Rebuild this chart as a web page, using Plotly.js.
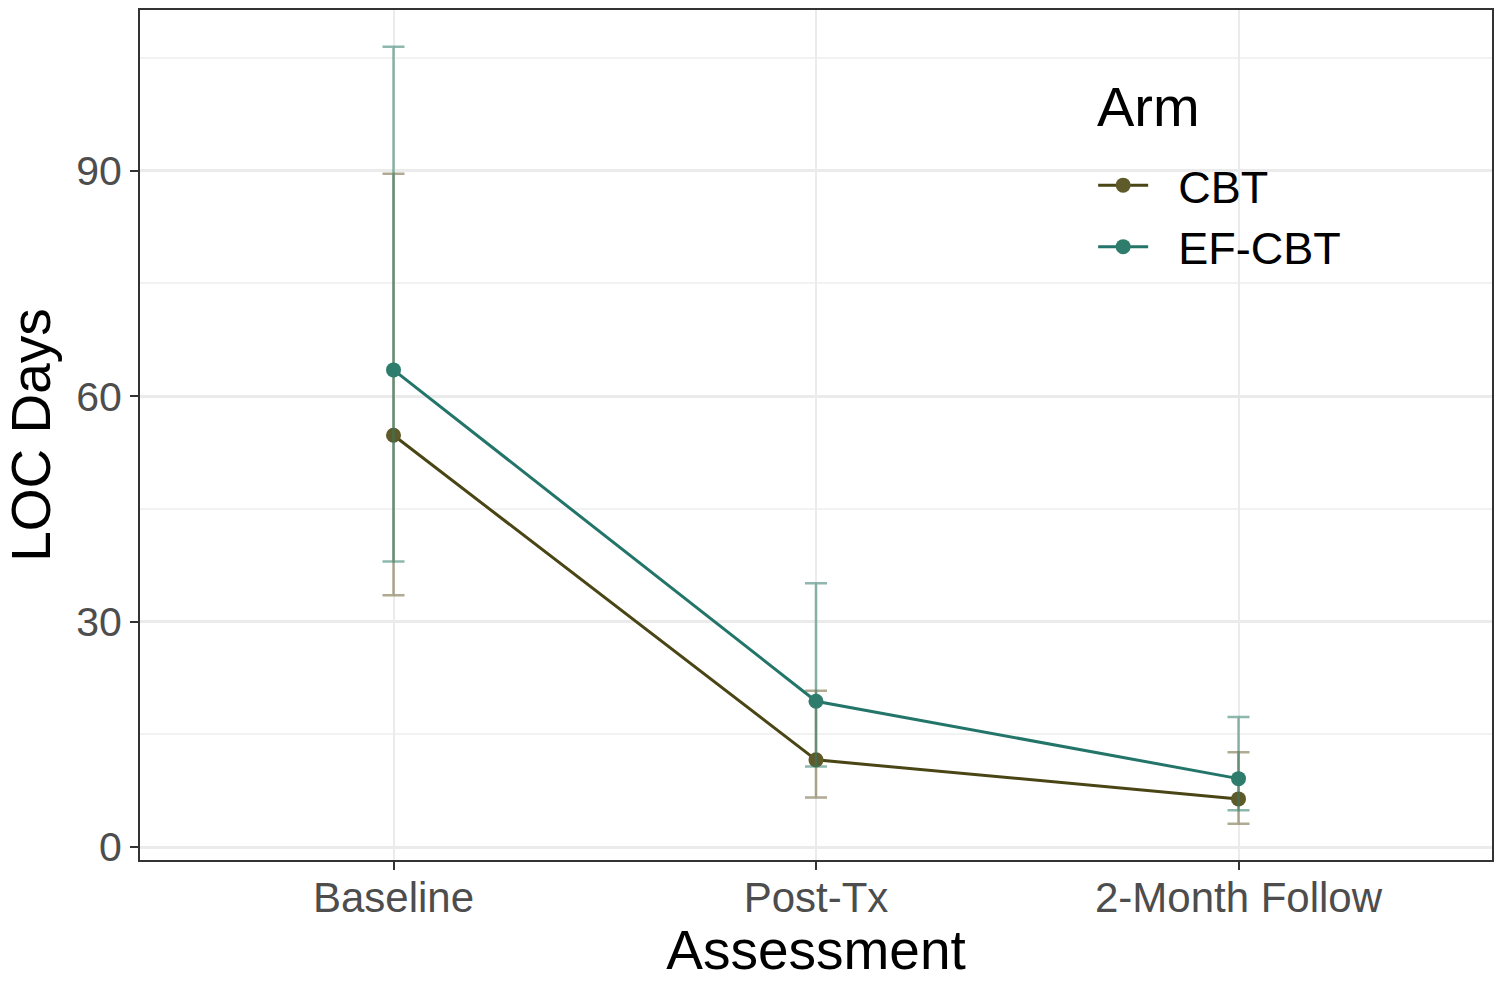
<!DOCTYPE html>
<html>
<head>
<meta charset="utf-8">
<script src="https://cdn.plot.ly/plotly-3.0.1.min.js"></script>
<style>
  html, body { margin: 0; padding: 0; background: #fff; }
  #plot { width: 1500px; height: 981px; }
</style>
</head>
<body>
<div id="plot"></div>
<script>
// Assessment points
const assessments = ["Baseline", "Post-Tx", "2-Month Follow"];

// CBT arm: means and error bar ends
const cbtMean = [54.8, 11.6, 6.4];
const cbtUpper = [89.6, 20.8, 12.6];
const cbtLower = [33.5, 6.6, 3.1];

// EF-CBT arm
const efMean = [63.5, 19.4, 9.1];
const efUpper = [106.5, 35.1, 17.3];
const efLower = [38.0, 10.7, 4.9];

function makeTrace(name, mean, upper, lower, color, lineColor, errColor) {
  return {
    x: assessments,
    y: mean,
    name: name,
    type: "scatter",
    mode: "lines+markers",
    line: { color: lineColor, width: 3 },
    marker: { color: color, size: 15 },
    error_y: {
      type: "data",
      symmetric: false,
      array: upper.map((u, i) => u - mean[i]),
      arrayminus: mean.map((m, i) => m - lower[i]),
      color: errColor,
      thickness: 2.5,
      width: 11
    }
  };
}

const traces = [
  makeTrace("&nbsp;&nbsp;CBT", cbtMean, cbtUpper, cbtLower, "#5e5a2a", "#4a4515", "rgba(110,100,55,0.55)"),
  makeTrace("&nbsp;&nbsp;EF-CBT", efMean, efUpper, efLower, "#2e7c6c", "#23756a", "rgba(50,125,105,0.55)")
];

const layout = {
  width: 1500,
  height: 981,
  paper_bgcolor: "#ffffff",
  plot_bgcolor: "#ffffff",
  font: { family: "Liberation Sans, Arial, sans-serif", color: "#000" },
  margin: { l: 140, r: 8, t: 10, b: 121 },
  showlegend: true,
  xaxis: {
    type: "category",
    range: [-0.6, 2.6],
    showgrid: true,
    gridcolor: "#ebebeb",
    gridwidth: 2,
    ticks: "outside",
    ticklen: 8,
    tickwidth: 2,
    tickcolor: "#333333",
    tickfont: { size: 42, color: "#4d4d4d" },
    ticklabelstandoff: -8,
    showline: true,
    linecolor: "#333333",
    linewidth: 2,
    mirror: true,
    zeroline: false,
    title: { text: "Assessment", font: { size: 55, color: "#000" }, standoff: 21 }
  },
  yaxis: {
    range: [-1.73, 111.4],
    tickvals: [0, 30, 60, 90],
    showgrid: true,
    gridcolor: "#ebebeb",
    gridwidth: 2.5,
    minor: { tickvals: [15, 45, 75, 105], showgrid: true, gridcolor: "#f2f2f2", gridwidth: 1.5 },
    ticks: "outside",
    ticklen: 8,
    tickwidth: 2,
    tickcolor: "#333333",
    tickfont: { size: 41, color: "#4d4d4d" },
    showline: true,
    linecolor: "#333333",
    linewidth: 2,
    mirror: true,
    zeroline: false,
    title: { text: "LOC Days", font: { size: 55, color: "#000" }, standoff: 10 }
  },
  // white legend key box over the gridlines
  shapes: [{
    type: "rect", xref: "paper", yref: "paper", layer: "between",
    x0: 0.693, x1: 0.9075, y0: 0.661, y1: 0.939,
    fillcolor: "#ffffff", line: { width: 0 }
  }],
  annotations: [{
    text: "Arm", xref: "paper", yref: "paper",
    x: 0.706, y: 0.886, xanchor: "left", yanchor: "middle",
    showarrow: false, font: { size: 56, color: "#000" }
  }],
  legend: {
    font: { size: 45, color: "#000" },
    bgcolor: "rgba(0,0,0,0)",
    x: 0.705,
    y: 0.836,
    xanchor: "left",
    yanchor: "top",
    itemwidth: 50,
    tracegroupgap: 0
  }
};

Plotly.newPlot("plot", traces, layout, { displayModeBar: false });
</script>
</body>
</html>
